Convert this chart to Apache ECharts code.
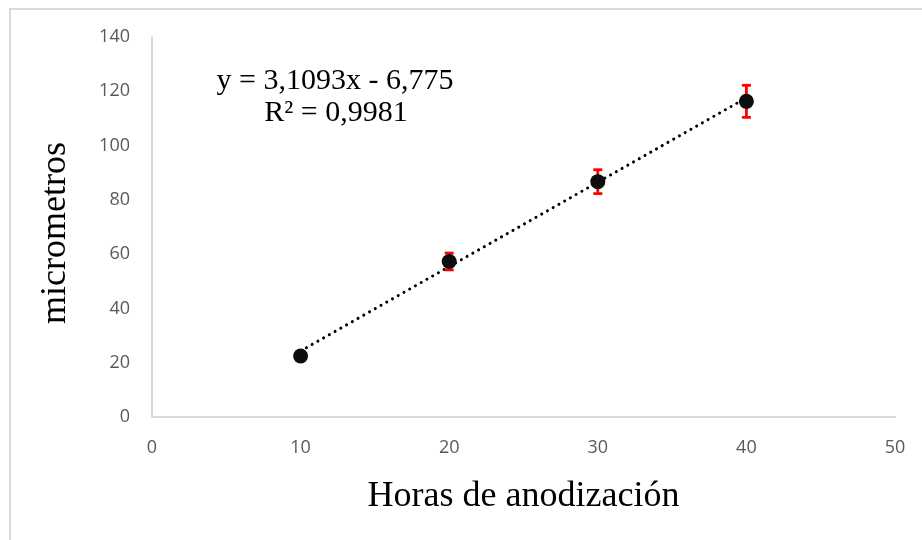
<!DOCTYPE html>
<html><head><meta charset="utf-8">
<script src="https://cdn.jsdelivr.net/npm/echarts@6/dist/echarts.min.js"></script>
<style>html,body{margin:0;padding:0;background:#fff}#c{width:922px;height:540px;position:relative}
#frame{position:absolute;left:9px;top:8px;width:913px;height:532px;border-left:2px solid #d9d9d9;border-top:2px solid #d9d9d9;box-sizing:border-box;pointer-events:none}</style>
</head><body><div id="c"></div><div id="frame"></div>
<script>
var hours = [10, 20, 30, 40];
var micrometers = [22.5, 57.3, 86.7, 116.3];
var errors = [0, 3.1, 4.4, 5.9];
var trendX = [10, 40];
var slope = 3.1093, intercept = -6.775;
var eqLine1 = 'y = 3,1093x - 6,775';
var eqLine2 = 'R² = 0,9981';

var chart = echarts.init(document.getElementById('c'));
var pts = hours.map(function(h,i){return [h, micrometers[i]];});
var errData = hours.map(function(h,i){return [h, micrometers[i]-errors[i], micrometers[i]+errors[i]];}).filter(function(d){return d[2]>d[1];});
var trend = trendX.map(function(x){return [x, slope*x+intercept];});
chart.setOption({
  animation:false,
  grid:{left:152,right:27,top:37,bottom:123},
  xAxis:{type:'value',min:0,max:50,interval:10,name:'Horas de anodización',nameLocation:'middle',nameGap:62,
    nameTextStyle:{fontFamily:'Liberation Serif',fontSize:36,color:'#000'},
    axisLine:{show:true,lineStyle:{color:'#d9d9d9',width:2}},axisTick:{show:false},splitLine:{show:false},
    axisLabel:{fontFamily:'Open Sans',fontSize:18,color:'#595959',margin:22}},
  yAxis:{type:'value',min:0,max:140,interval:20,name:'micrometros',nameLocation:'middle',nameGap:78,
    nameTextStyle:{fontFamily:'Liberation Serif',fontSize:36,color:'#000',padding:[0,12,0,0]},
    axisLine:{show:true,lineStyle:{color:'#d9d9d9',width:2}},axisTick:{show:false},splitLine:{show:false},
    axisLabel:{fontFamily:'Open Sans',fontSize:18,color:'#595959',margin:22}},
  graphic:[
    {type:'text',x:335,y:81,style:{text:eqLine1,font:'30px "Liberation Serif"',fill:'#000',align:'center',verticalAlign:'middle'}},
    {type:'text',x:336,y:113,style:{text:eqLine2,font:'30px "Liberation Serif"',fill:'#000',align:'center',verticalAlign:'middle'}}
  ],
  series:[
    {type:'line',data:trend,symbol:'none',lineStyle:{color:'#000',width:3,type:[0.1,6.5],cap:'round'},z:2},
    {type:'custom',data:errData,z:3,renderItem:function(params,api){
      var x=api.value(0);var lo=api.coord([x,api.value(1)]);var hi=api.coord([x,api.value(2)]);var w=4.5;
      var st={stroke:'#ff0000',lineWidth:2.8};
      return {type:'group',children:[
        {type:'line',shape:{x1:lo[0],y1:lo[1],x2:hi[0],y2:hi[1]},style:st},
        {type:'line',shape:{x1:lo[0]-w,y1:lo[1],x2:lo[0]+w,y2:lo[1]},style:st},
        {type:'line',shape:{x1:hi[0]-w,y1:hi[1],x2:hi[0]+w,y2:hi[1]},style:st}
      ]};
    }},
    {type:'scatter',data:pts,symbol:'circle',symbolSize:15,itemStyle:{color:'#0d0d0d',opacity:1},z:4}
  ]
});
</script></body></html>
